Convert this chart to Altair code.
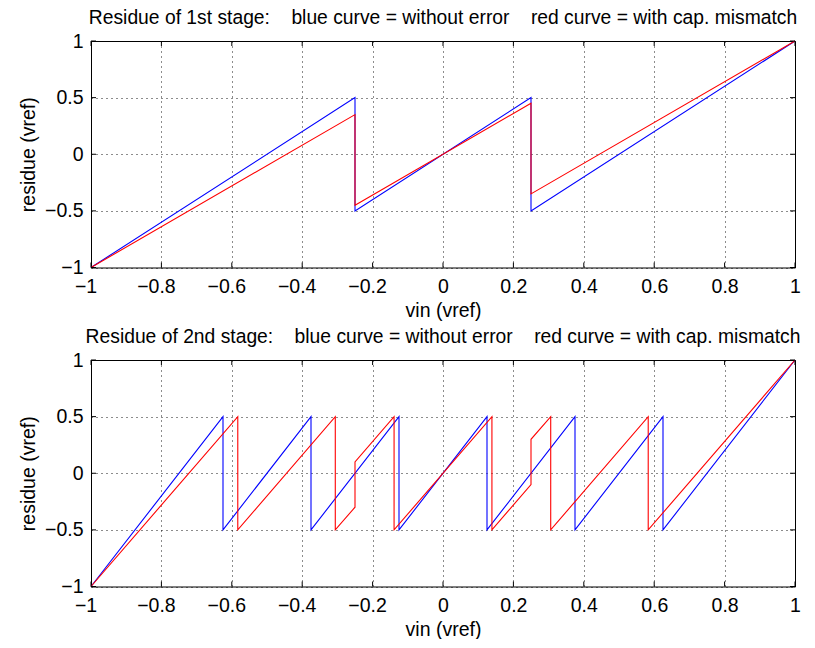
import altair as alt
import pandas as pd

# ---- data ----
# Stage 1 residue
s1_blue_x = [-1.0, -0.25, -0.25, 0.25, 0.25, 1.0]
s1_blue_y = [-1.0, 0.5, -0.5, 0.5, -0.5, 1.0]
s1_red_x = [-1.0, -0.25, -0.25, 0.25, 0.25, 1.0]
s1_red_y = [-1.0, 0.35, -0.45, 0.45, -0.35, 1.0]

# Stage 2 residue
s2_blue_x = [-1.0, -0.625, -0.625, -0.375, -0.375, -0.125, -0.125, 0.125, 0.125,
             0.375, 0.375, 0.625, 0.625, 1.0]
s2_blue_y = [-1.0, 0.5, -0.5, 0.5, -0.5, 0.5, -0.5, 0.5, -0.5, 0.5, -0.5, 0.5, -0.5, 1.0]
s2_red_x = [-1.0, -0.583, -0.583, -0.306, -0.306, -0.25, -0.25, -0.139, -0.139,
            0.139, 0.139, 0.25, 0.25, 0.306, 0.306, 0.583, 0.583, 1.0]
s2_red_y = [-1.0, 0.5, -0.5, 0.5, -0.5, -0.3, 0.1, 0.5, -0.5,
            0.5, -0.5, -0.1, 0.3, 0.5, -0.5, 0.5, -0.5, 1.0]

x_ticks = [-1, -0.8, -0.6, -0.4, -0.2, 0, 0.2, 0.4, 0.6, 0.8, 1]
y_ticks = [-1, -0.5, 0, 0.5, 1]

series_names = ["without error", "with cap. mismatch"]
series_colors = ["#0000ff", "#ff0000"]

GAP = "\u00a0\u00a0\u00a0\u00a0"
title1 = "Residue of 1st stage:" + GAP + "blue curve = without error" + GAP + "red curve = with cap. mismatch"
title2 = "Residue of 2nd stage:" + GAP + "blue curve = without error" + GAP + "red curve = with cap. mismatch"

W, H = 704, 226.5
FONT = "Liberation Sans"
FS = 19.5
TFS = 19.3


def frame(xb, yb, xr, yr):
    rows = []
    for i, (x, y) in enumerate(zip(xb, yb)):
        rows.append({"vin": x, "res": y, "series": series_names[0], "i": i})
    for i, (x, y) in enumerate(zip(xr, yr)):
        rows.append({"vin": x, "res": y, "series": series_names[1], "i": i})
    return pd.DataFrame(rows)


xscale = alt.Scale(domain=[-1, 1], nice=False, zero=False)
yscale = alt.Scale(domain=[-1, 1], nice=False, zero=False)

xaxis = alt.Axis(values=x_ticks, format="~g", title="vin (vref)", grid=True,
                 gridColor="#000000", gridDash=[1, 4], gridWidth=1, gridOpacity=0.9,
                 ticks=False, domain=False, labelFontSize=FS, labelFont=FONT,
                 labelColor="black", labelPadding=10, labelFlush=False,
                 labelOffset={"condition": {"test": "datum.value < 0", "value": -5.5}, "value": 0},
                 titleFontSize=FS, titleFont=FONT, titleFontWeight="normal",
                 titleColor="black", titlePadding=5)
yaxis = alt.Axis(values=y_ticks, format="~g", title="residue (vref)", grid=True,
                 gridColor="#000000", gridDash=[1, 4], gridWidth=1, gridOpacity=0.9,
                 ticks=False, domain=False, labelFontSize=FS, labelFont=FONT,
                 labelColor="black", labelPadding=8, labelFlush=False,
                 titleFontSize=FS, titleFont=FONT, titleFontWeight="normal",
                 titleColor="black", titlePadding=6)


def panel(df, title):
    lines = alt.Chart(df).mark_line(strokeWidth=1.1).encode(
        x=alt.X("vin:Q", scale=xscale, axis=xaxis),
        y=alt.Y("res:Q", scale=yscale, axis=yaxis),
        color=alt.Color("series:N", scale=alt.Scale(domain=series_names, range=series_colors),
                        legend=None),
        order="i:Q",
    )
    xt = pd.DataFrame({"vin": x_ticks})
    yt = pd.DataFrame({"res": y_ticks})
    tick_top = alt.Chart(xt).mark_rule(color="black", strokeWidth=1).encode(
        x=alt.X("vin:Q", scale=xscale, axis=xaxis), y=alt.value(0), y2=alt.value(5))
    tick_bot = alt.Chart(xt).mark_rule(color="black", strokeWidth=1).encode(
        x=alt.X("vin:Q", scale=xscale, axis=xaxis), y=alt.value(H), y2=alt.value(H - 5))
    tick_left = alt.Chart(yt).mark_rule(color="black", strokeWidth=1).encode(
        y=alt.Y("res:Q", scale=yscale, axis=yaxis), x=alt.value(0), x2=alt.value(5))
    tick_right = alt.Chart(yt).mark_rule(color="black", strokeWidth=1).encode(
        y=alt.Y("res:Q", scale=yscale, axis=yaxis), x=alt.value(W), x2=alt.value(W - 5))
    return alt.layer(lines, tick_top, tick_bot, tick_left, tick_right).properties(
        width=W, height=H,
        title=alt.TitleParams(title, fontSize=TFS, font=FONT, fontWeight="normal",
                              color="black", baseline="alphabetic", offset=-12.3,
                              anchor="middle", frame="group"),
    )


p1 = panel(frame(s1_blue_x, s1_blue_y, s1_red_x, s1_red_y), title1)
p2 = panel(frame(s2_blue_x, s2_blue_y, s2_red_x, s2_red_y), title2)

chart = alt.vconcat(p1, p2, spacing=92, bounds="flush").properties(
    padding={"left": 10, "top": 0, "right": 0, "bottom": 0},
    background="white",
).configure_view(stroke="black", strokeWidth=1)

chart.save("out.html", embed_options={"renderer": "svg", "actions": False})
